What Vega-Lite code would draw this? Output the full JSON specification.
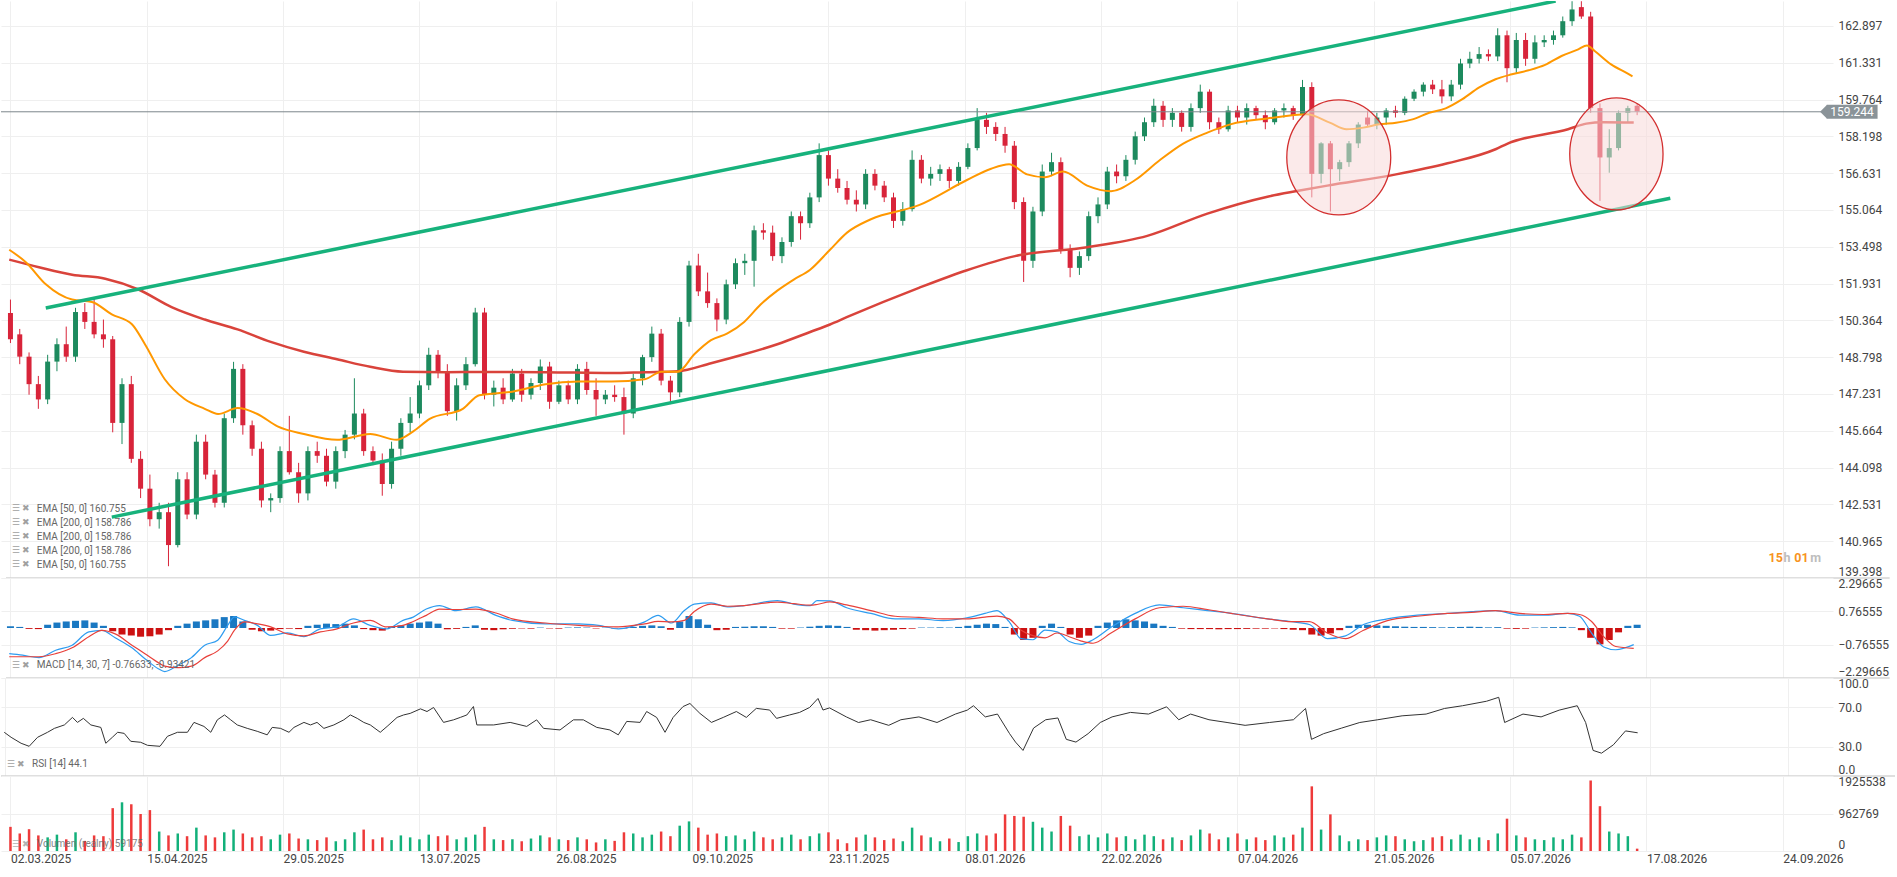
{
"$schema":"https://vega.github.io/schema/vega-lite/v6.json",
"padding":0,
"background":"#ffffff",
"spacing":0,
"bounds":"flush",
"config":{"view":{"stroke":null},"axis":{"domain":false,"ticks":false,"tickSize":0,"title":null,"grid":true,"gridColor":"#efefef","gridWidth":1,"labelFont":"Roboto","labelFontSize":12,"labelColor":"#444444"},"text":{"font":"Roboto"}},
"datasets":{
"one":[{}],
"k":[
{"t":0,"o":150.68,"h":151.25,"l":149.4,"c":149.56,"v":620,"g":0.08},
{"t":3,"o":149.77,"h":150.0,"l":148.5,"c":148.82,"v":450,"g":0.05},
{"t":6,"o":148.82,"h":149.0,"l":147.2,"c":147.65,"v":560,"g":-0.04},
{"t":9,"o":147.65,"h":148.0,"l":146.6,"c":147.0,"v":400,"g":-0.05},
{"t":12,"o":147.0,"h":148.9,"l":146.8,"c":148.61,"v":350,"g":0.15},
{"t":15,"o":148.61,"h":149.6,"l":148.2,"c":149.35,"v":420,"g":0.25},
{"t":18,"o":149.35,"h":150.1,"l":148.6,"c":148.82,"v":300,"g":0.3},
{"t":21,"o":148.82,"h":150.9,"l":148.6,"c":150.72,"v":480,"g":0.33},
{"t":24,"o":150.72,"h":151.1,"l":150.0,"c":150.3,"v":260,"g":0.35},
{"t":27,"o":150.3,"h":151.3,"l":149.6,"c":149.77,"v":400,"g":0.25},
{"t":30,"o":149.77,"h":150.4,"l":149.2,"c":149.56,"v":380,"g":0.1},
{"t":33,"o":149.56,"h":149.7,"l":145.6,"c":146.0,"v":1100,"g":-0.15},
{"t":36,"o":146.0,"h":147.9,"l":145.1,"c":147.65,"v":1250,"g":-0.3},
{"t":39,"o":147.65,"h":148.0,"l":144.3,"c":144.47,"v":1200,"g":-0.35},
{"t":42,"o":144.47,"h":144.8,"l":142.8,"c":143.2,"v":950,"g":-0.4},
{"t":45,"o":143.2,"h":143.8,"l":141.6,"c":141.9,"v":1050,"g":-0.38},
{"t":48,"o":141.9,"h":142.6,"l":141.5,"c":142.2,"v":500,"g":-0.3},
{"t":51,"o":142.2,"h":142.6,"l":139.9,"c":140.8,"v":400,"g":-0.1},
{"t":54,"o":140.8,"h":143.9,"l":140.7,"c":143.6,"v":450,"g":0.1},
{"t":57,"o":143.6,"h":143.9,"l":141.9,"c":142.1,"v":380,"g":0.2},
{"t":60,"o":142.1,"h":145.5,"l":141.9,"c":145.2,"v":600,"g":0.3},
{"t":63,"o":145.2,"h":145.5,"l":143.6,"c":143.8,"v":400,"g":0.35},
{"t":66,"o":143.8,"h":144.0,"l":142.4,"c":142.6,"v":350,"g":0.4},
{"t":69,"o":142.6,"h":146.4,"l":142.4,"c":146.2,"v":480,"g":0.5},
{"t":72,"o":146.2,"h":148.6,"l":146.0,"c":148.3,"v":550,"g":0.55},
{"t":75,"o":148.3,"h":148.5,"l":145.5,"c":145.9,"v":450,"g":0.3},
{"t":78,"o":145.9,"h":146.1,"l":144.6,"c":144.9,"v":350,"g":-0.08},
{"t":81,"o":144.9,"h":145.2,"l":142.4,"c":142.7,"v":380,"g":-0.15},
{"t":84,"o":142.7,"h":143.0,"l":142.2,"c":142.8,"v":300,"g":-0.12},
{"t":87,"o":142.8,"h":145.0,"l":142.6,"c":144.8,"v":420,"g":-0.05},
{"t":90,"o":144.8,"h":146.3,"l":143.8,"c":143.9,"v":450,"g":-0.03},
{"t":93,"o":143.9,"h":144.3,"l":142.6,"c":143.0,"v":320,"g":-0.05},
{"t":96,"o":143.0,"h":145.0,"l":142.7,"c":144.8,"v":300,"g":0.1},
{"t":99,"o":144.8,"h":145.2,"l":144.3,"c":144.6,"v":280,"g":0.15},
{"t":102,"o":144.6,"h":144.9,"l":143.3,"c":143.5,"v":350,"g":0.2},
{"t":105,"o":143.5,"h":145.0,"l":143.2,"c":144.8,"v":250,"g":0.18},
{"t":108,"o":144.8,"h":145.7,"l":144.5,"c":145.5,"v":300,"g":0.2},
{"t":111,"o":145.5,"h":147.9,"l":145.3,"c":146.4,"v":480,"g":0.12},
{"t":114,"o":146.4,"h":146.6,"l":144.6,"c":144.8,"v":550,"g":-0.05},
{"t":117,"o":144.8,"h":145.0,"l":144.2,"c":144.4,"v":300,"g":-0.1},
{"t":120,"o":144.4,"h":144.7,"l":142.9,"c":143.4,"v":350,"g":-0.12},
{"t":123,"o":143.4,"h":145.2,"l":143.2,"c":144.9,"v":280,"g":0.05},
{"t":126,"o":144.9,"h":146.2,"l":144.6,"c":146.0,"v":400,"g":0.12},
{"t":129,"o":146.0,"h":147.1,"l":145.6,"c":146.4,"v":350,"g":0.2},
{"t":132,"o":146.4,"h":147.8,"l":146.2,"c":147.6,"v":300,"g":0.25},
{"t":135,"o":147.6,"h":149.2,"l":147.4,"c":148.9,"v":420,"g":0.3},
{"t":138,"o":148.9,"h":149.1,"l":147.9,"c":148.2,"v":380,"g":0.2},
{"t":141,"o":148.2,"h":148.5,"l":146.3,"c":146.5,"v":400,"g":-0.06},
{"t":144,"o":146.5,"h":147.9,"l":146.1,"c":147.6,"v":300,"g":-0.04},
{"t":147,"o":147.6,"h":148.8,"l":147.4,"c":148.5,"v":350,"g":0.05},
{"t":150,"o":148.5,"h":150.9,"l":148.4,"c":150.7,"v":420,"g":0.12},
{"t":153,"o":150.7,"h":150.9,"l":147.0,"c":147.2,"v":620,"g":-0.08},
{"t":156,"o":147.2,"h":147.8,"l":146.7,"c":147.5,"v":300,"g":-0.1},
{"t":159,"o":147.5,"h":147.9,"l":146.8,"c":147.0,"v":280,"g":-0.06},
{"t":162,"o":147.0,"h":148.3,"l":146.9,"c":148.1,"v":300,"g":-0.03},
{"t":165,"o":148.1,"h":148.3,"l":146.9,"c":147.2,"v":250,"g":-0.02},
{"t":168,"o":147.2,"h":147.9,"l":147.0,"c":147.7,"v":320,"g":-0.03},
{"t":171,"o":147.7,"h":148.7,"l":147.4,"c":148.4,"v":400,"g":0.02},
{"t":174,"o":148.4,"h":148.6,"l":146.6,"c":146.9,"v":350,"g":-0.02},
{"t":177,"o":146.9,"h":147.8,"l":146.8,"c":147.6,"v":300,"g":-0.03},
{"t":180,"o":147.6,"h":147.8,"l":146.8,"c":147.0,"v":280,"g":0.02},
{"t":183,"o":147.0,"h":148.5,"l":146.8,"c":148.3,"v":350,"g":0.03},
{"t":186,"o":148.3,"h":148.6,"l":147.2,"c":147.4,"v":300,"g":0.02},
{"t":189,"o":147.4,"h":147.9,"l":146.3,"c":147.0,"v":220,"g":-0.02},
{"t":192,"o":147.0,"h":147.4,"l":146.8,"c":147.2,"v":300,"g":0.02},
{"t":195,"o":147.2,"h":147.6,"l":146.9,"c":147.1,"v":260,"g":-0.02},
{"t":198,"o":147.1,"h":147.5,"l":145.5,"c":146.4,"v":480,"g":-0.02},
{"t":201,"o":146.4,"h":148.1,"l":146.2,"c":147.9,"v":450,"g":0.05},
{"t":204,"o":147.9,"h":148.9,"l":147.6,"c":148.8,"v":350,"g":0.1},
{"t":207,"o":148.8,"h":150.1,"l":148.6,"c":149.8,"v":420,"g":0.12},
{"t":210,"o":149.8,"h":150.0,"l":147.6,"c":147.8,"v":500,"g":0.08},
{"t":213,"o":147.8,"h":148.0,"l":146.8,"c":147.3,"v":380,"g":-0.08},
{"t":216,"o":147.3,"h":150.5,"l":147.1,"c":150.3,"v":650,"g":0.3},
{"t":219,"o":150.3,"h":152.9,"l":150.1,"c":152.7,"v":760,"g":0.55},
{"t":222,"o":152.7,"h":153.2,"l":151.4,"c":151.6,"v":600,"g":0.4},
{"t":225,"o":151.6,"h":152.4,"l":150.9,"c":151.1,"v":420,"g":0.15},
{"t":228,"o":151.1,"h":151.3,"l":149.9,"c":150.4,"v":450,"g":-0.1},
{"t":231,"o":150.4,"h":152.1,"l":150.2,"c":151.9,"v":380,"g":-0.08},
{"t":234,"o":151.9,"h":153.0,"l":151.7,"c":152.8,"v":400,"g":0.05},
{"t":237,"o":152.8,"h":153.2,"l":152.3,"c":152.9,"v":300,"g":0.06},
{"t":240,"o":152.9,"h":154.4,"l":151.8,"c":154.2,"v":500,"g":0.08},
{"t":243,"o":154.2,"h":154.5,"l":153.8,"c":154.1,"v":350,"g":0.08},
{"t":246,"o":154.1,"h":154.4,"l":152.9,"c":153.1,"v":300,"g":0.05},
{"t":249,"o":153.1,"h":153.9,"l":152.8,"c":153.7,"v":350,"g":-0.03},
{"t":252,"o":153.7,"h":155.0,"l":153.5,"c":154.8,"v":420,"g":-0.03},
{"t":255,"o":154.8,"h":155.0,"l":153.8,"c":154.5,"v":300,"g":0.02},
{"t":258,"o":154.5,"h":155.8,"l":154.3,"c":155.6,"v":380,"g":0.06},
{"t":261,"o":155.6,"h":157.9,"l":155.4,"c":157.4,"v":450,"g":0.1},
{"t":264,"o":157.4,"h":157.6,"l":156.1,"c":156.4,"v":480,"g":0.12},
{"t":267,"o":156.4,"h":156.8,"l":155.8,"c":156.0,"v":300,"g":0.1},
{"t":270,"o":156.0,"h":156.3,"l":155.3,"c":155.5,"v":200,"g":0.05},
{"t":273,"o":155.5,"h":155.9,"l":155.0,"c":155.3,"v":350,"g":-0.08},
{"t":276,"o":155.3,"h":156.8,"l":155.1,"c":156.6,"v":420,"g":-0.1},
{"t":279,"o":156.6,"h":156.8,"l":155.9,"c":156.1,"v":350,"g":-0.12},
{"t":282,"o":156.1,"h":156.3,"l":155.4,"c":155.6,"v":280,"g":-0.1},
{"t":285,"o":155.6,"h":155.8,"l":154.3,"c":154.6,"v":320,"g":-0.08},
{"t":288,"o":154.6,"h":155.4,"l":154.4,"c":155.1,"v":250,"g":-0.05},
{"t":291,"o":155.1,"h":157.6,"l":155.0,"c":157.2,"v":600,"g":-0.03},
{"t":294,"o":157.2,"h":157.4,"l":156.2,"c":156.4,"v":400,"g":0.02},
{"t":297,"o":156.4,"h":156.9,"l":156.1,"c":156.6,"v":350,"g":0.02},
{"t":300,"o":156.6,"h":157.0,"l":156.3,"c":156.8,"v":250,"g":0.03},
{"t":303,"o":156.8,"h":156.9,"l":156.0,"c":156.3,"v":320,"g":0.02},
{"t":306,"o":156.3,"h":157.1,"l":156.1,"c":156.9,"v":230,"g":0.05},
{"t":309,"o":156.9,"h":157.9,"l":156.8,"c":157.7,"v":380,"g":0.1},
{"t":312,"o":157.7,"h":159.4,"l":157.6,"c":158.9,"v":450,"g":0.15},
{"t":315,"o":158.9,"h":159.2,"l":158.3,"c":158.6,"v":400,"g":0.2},
{"t":318,"o":158.6,"h":158.8,"l":158.0,"c":158.3,"v":450,"g":0.18},
{"t":321,"o":158.3,"h":158.6,"l":157.5,"c":157.8,"v":940,"g":0.05},
{"t":324,"o":157.8,"h":158.0,"l":155.1,"c":155.4,"v":900,"g":-0.3},
{"t":327,"o":155.4,"h":155.6,"l":152.0,"c":152.9,"v":880,"g":-0.55},
{"t":330,"o":152.9,"h":155.2,"l":152.6,"c":155.0,"v":750,"g":-0.45},
{"t":333,"o":155.0,"h":157.0,"l":154.8,"c":156.7,"v":600,"g":0.1},
{"t":336,"o":156.7,"h":157.5,"l":156.5,"c":157.1,"v":500,"g":0.2},
{"t":339,"o":157.1,"h":157.3,"l":153.2,"c":153.4,"v":900,"g":0.05},
{"t":342,"o":153.4,"h":153.6,"l":152.2,"c":152.6,"v":650,"g":-0.3},
{"t":345,"o":152.6,"h":153.3,"l":152.3,"c":153.1,"v":380,"g":-0.45},
{"t":348,"o":153.1,"h":155.0,"l":152.9,"c":154.8,"v":420,"g":-0.35},
{"t":351,"o":154.8,"h":155.6,"l":154.5,"c":155.3,"v":350,"g":0.1},
{"t":354,"o":155.3,"h":156.9,"l":155.1,"c":156.7,"v":450,"g":0.25},
{"t":357,"o":156.7,"h":157.0,"l":156.2,"c":156.5,"v":350,"g":0.35},
{"t":360,"o":156.5,"h":157.4,"l":156.3,"c":157.2,"v":380,"g":0.4},
{"t":363,"o":157.2,"h":158.4,"l":157.0,"c":158.2,"v":300,"g":0.35},
{"t":366,"o":158.2,"h":159.0,"l":158.0,"c":158.8,"v":420,"g":0.3},
{"t":369,"o":158.8,"h":159.8,"l":158.6,"c":159.5,"v":380,"g":0.2},
{"t":372,"o":159.5,"h":159.7,"l":158.6,"c":158.9,"v":300,"g":0.1},
{"t":375,"o":158.9,"h":159.4,"l":158.6,"c":159.2,"v":350,"g":0.05},
{"t":378,"o":159.2,"h":159.3,"l":158.4,"c":158.6,"v":280,"g":-0.03},
{"t":381,"o":158.6,"h":159.6,"l":158.4,"c":159.4,"v":400,"g":-0.05},
{"t":384,"o":159.4,"h":160.4,"l":159.2,"c":160.1,"v":550,"g":-0.05},
{"t":387,"o":160.1,"h":160.2,"l":158.5,"c":158.8,"v":450,"g":-0.05},
{"t":390,"o":158.8,"h":159.0,"l":158.3,"c":158.5,"v":300,"g":-0.06},
{"t":393,"o":158.5,"h":159.5,"l":158.4,"c":159.3,"v":350,"g":-0.05},
{"t":396,"o":159.3,"h":159.5,"l":158.8,"c":159.0,"v":450,"g":-0.05},
{"t":399,"o":159.0,"h":159.6,"l":158.7,"c":159.4,"v":300,"g":-0.04},
{"t":402,"o":159.4,"h":159.5,"l":158.9,"c":159.1,"v":350,"g":-0.03},
{"t":405,"o":159.1,"h":159.3,"l":158.5,"c":158.8,"v":280,"g":-0.03},
{"t":408,"o":158.8,"h":159.4,"l":158.7,"c":159.3,"v":400,"g":-0.02},
{"t":411,"o":159.3,"h":159.6,"l":159.0,"c":159.4,"v":350,"g":-0.05},
{"t":414,"o":159.4,"h":159.5,"l":158.9,"c":159.1,"v":420,"g":-0.08},
{"t":417,"o":159.1,"h":160.6,"l":159.0,"c":160.3,"v":600,"g":-0.1},
{"t":420,"o":160.3,"h":160.5,"l":155.6,"c":156.6,"v":1660,"g":-0.3},
{"t":423,"o":156.6,"h":157.95,"l":156.2,"c":157.9,"v":550,"g":-0.35},
{"t":426,"o":157.9,"h":158.0,"l":155.0,"c":156.8,"v":940,"g":-0.25},
{"t":429,"o":156.8,"h":157.2,"l":156.3,"c":157.1,"v":400,"g":-0.1},
{"t":432,"o":157.1,"h":158.0,"l":156.9,"c":157.9,"v":250,"g":0.1},
{"t":435,"o":157.9,"h":158.8,"l":157.7,"c":158.7,"v":300,"g":0.15},
{"t":438,"o":159.0,"h":159.3,"l":158.6,"c":158.7,"v":280,"g":0.15},
{"t":441,"o":158.7,"h":159.2,"l":158.5,"c":159.0,"v":350,"g":0.12},
{"t":444,"o":159.0,"h":159.4,"l":158.7,"c":159.3,"v":400,"g":0.1},
{"t":447,"o":159.3,"h":159.5,"l":159.0,"c":159.2,"v":380,"g":0.08},
{"t":450,"o":159.2,"h":159.9,"l":159.1,"c":159.8,"v":300,"g":0.06},
{"t":453,"o":159.8,"h":160.2,"l":159.7,"c":160.1,"v":250,"g":0.05},
{"t":456,"o":160.1,"h":160.5,"l":159.9,"c":160.4,"v":280,"g":0.05},
{"t":459,"o":160.4,"h":160.6,"l":160.0,"c":160.2,"v":350,"g":0.04},
{"t":462,"o":160.2,"h":160.6,"l":159.6,"c":159.9,"v":380,"g":0.03},
{"t":465,"o":159.9,"h":160.6,"l":159.7,"c":160.4,"v":300,"g":0.04},
{"t":468,"o":160.4,"h":161.5,"l":160.2,"c":161.3,"v":420,"g":0.05},
{"t":471,"o":161.3,"h":161.8,"l":161.1,"c":161.5,"v":300,"g":0.06},
{"t":474,"o":161.5,"h":162.0,"l":161.3,"c":161.7,"v":350,"g":0.05},
{"t":477,"o":161.7,"h":161.9,"l":161.4,"c":161.6,"v":280,"g":0.03},
{"t":480,"o":161.6,"h":162.8,"l":161.4,"c":162.5,"v":450,"g":0.04},
{"t":483,"o":162.5,"h":162.7,"l":160.5,"c":161.1,"v":830,"g":-0.03},
{"t":486,"o":161.1,"h":162.6,"l":160.9,"c":162.3,"v":400,"g":-0.04},
{"t":489,"o":162.3,"h":162.6,"l":161.2,"c":161.5,"v":350,"g":-0.03},
{"t":492,"o":161.5,"h":162.5,"l":161.3,"c":162.2,"v":300,"g":0.02},
{"t":495,"o":162.2,"h":162.5,"l":162.0,"c":162.3,"v":280,"g":0.03},
{"t":498,"o":162.3,"h":162.7,"l":162.1,"c":162.5,"v":350,"g":0.04},
{"t":501,"o":162.5,"h":163.3,"l":162.4,"c":163.1,"v":300,"g":0.05},
{"t":504,"o":163.1,"h":163.95,"l":162.9,"c":163.6,"v":420,"g":0.03},
{"t":507,"o":163.7,"h":163.95,"l":163.2,"c":163.3,"v":350,"g":-0.1},
{"t":510,"o":163.3,"h":163.5,"l":159.2,"c":159.4,"v":1810,"g":-0.45},
{"t":513,"o":159.4,"h":159.6,"l":155.45,"c":157.3,"v":1150,"g":-0.75},
{"t":516,"o":157.3,"h":158.5,"l":156.65,"c":157.7,"v":500,"g":-0.55},
{"t":519,"o":157.7,"h":159.3,"l":157.6,"c":159.2,"v":450,"g":-0.2},
{"t":522,"o":159.2,"h":159.5,"l":158.8,"c":159.4,"v":380,"g":0.1},
{"t":525,"o":159.5,"h":159.6,"l":159.1,"c":159.244,"v":60,"g":0.15}
],
"e200":[
{"t":-0.4,"p":152.95},{"t":9.2,"p":152.63},{"t":19.9,"p":152.31},{"t":30.6,"p":152.14},{"t":41.3,"p":151.68},{"t":52,"p":150.93},{"t":62.7,"p":150.4},{"t":73.3,"p":149.98},{"t":84,"p":149.45},{"t":94.7,"p":149.03},{"t":105.4,"p":148.71},{"t":116.1,"p":148.39},{"t":126.7,"p":148.18},{"t":140.6,"p":148.16},{"t":151.3,"p":148.17},{"t":172.7,"p":148.16},{"t":194,"p":148.12},{"t":204.7,"p":148.16},{"t":215.4,"p":148.2},{"t":226.1,"p":148.54},{"t":236.8,"p":148.92},{"t":247.5,"p":149.35},{"t":258.1,"p":149.87},{"t":264.5,"p":150.19},{"t":269.9,"p":150.5},{"t":293.2,"p":151.75},{"t":308.7,"p":152.5},{"t":324.2,"p":153.1},{"t":347.5,"p":153.48},{"t":366.9,"p":153.96},{"t":386.3,"p":154.91},{"t":405.7,"p":155.63},{"t":415.2,"p":155.87},{"t":425,"p":156.1},{"t":447.2,"p":156.58},{"t":463.8,"p":157.05},{"t":479.3,"p":157.65},{"t":483.2,"p":157.89},{"t":502.7,"p":158.5},{"t":508.6,"p":158.74},{"t":514.2,"p":158.8},{"t":523.9,"p":158.786}
],
"e50":[
{"t":-0.4,"p":153.37},{"t":4.97,"p":152.84},{"t":11.4,"p":151.9},{"t":19.9,"p":151.25},{"t":26.3,"p":151.15},{"t":32.7,"p":150.62},{"t":39.2,"p":150.2},{"t":43.4,"p":149.35},{"t":49.8,"p":147.86},{"t":56.2,"p":147.02},{"t":62.7,"p":146.6},{"t":67,"p":146.38},{"t":73.3,"p":146.63},{"t":79.7,"p":146.38},{"t":86.2,"p":145.85},{"t":94.7,"p":145.53},{"t":105.4,"p":145.28},{"t":111.8,"p":145.43},{"t":116.1,"p":145.53},{"t":124.6,"p":145.28},{"t":130,"p":145.64},{"t":135.3,"p":146.17},{"t":146,"p":146.6},{"t":151.3,"p":147.18},{"t":162,"p":147.33},{"t":172.7,"p":147.65},{"t":183.4,"p":147.76},{"t":194,"p":147.76},{"t":204.7,"p":147.86},{"t":210.1,"p":148.18},{"t":215.4,"p":148.18},{"t":220.7,"p":148.92},{"t":226.1,"p":149.52},{"t":231.4,"p":149.81},{"t":236.8,"p":150.3},{"t":242.1,"p":151.04},{"t":247.5,"p":151.63},{"t":252.8,"p":152.1},{"t":258.1,"p":152.52},{"t":264.5,"p":153.37},{"t":270,"p":154.1},{"t":277.7,"p":154.67},{"t":293.2,"p":155.27},{"t":308.7,"p":156.34},{"t":316.5,"p":156.82},{"t":322.3,"p":157.01},{"t":328.1,"p":156.58},{"t":333.9,"p":156.46},{"t":339.7,"p":156.7},{"t":347.5,"p":156.1},{"t":355.2,"p":155.86},{"t":363,"p":156.34},{"t":370.8,"p":157.17},{"t":378.5,"p":157.89},{"t":386.3,"p":158.36},{"t":394,"p":158.72},{"t":405.7,"p":158.96},{"t":418.4,"p":159.14},{"t":425.8,"p":158.78},{"t":431.2,"p":158.5},{"t":436.6,"p":158.57},{"t":441.8,"p":158.71},{"t":447.2,"p":158.78},{"t":452.5,"p":158.92},{"t":457.9,"p":159.2},{"t":463.2,"p":159.39},{"t":468.6,"p":159.78},{"t":473.9,"p":160.27},{"t":479.3,"p":160.63},{"t":484.6,"p":160.84},{"t":490,"p":161.01},{"t":495.3,"p":161.24},{"t":500.6,"p":161.62},{"t":506,"p":161.9},{"t":508.8,"p":162.07},{"t":511.3,"p":161.83},{"t":516.6,"p":161.26},{"t":522,"p":160.87},{"t":523.5,"p":160.755}
],
"ch":[{"g":"u","t":11.4,"p":150.89},{"g":"u","t":498.7,"p":163.96},{"g":"l","t":32.7,"p":141.99},{"g":"l","t":535.7,"p":155.56}],
"md":[
{"t":-0.4,"m":-1.18,"s":-1.32},{"t":3.9,"m":-1.25,"s":-1.32},{"t":9.2,"m":-1.36,"s":-1.32},{"t":14.6,"m":-1.02,"s":-1.18},{"t":19.9,"m":-0.79,"s":-0.91},{"t":25.3,"m":-0.18,"s":-0.4},{"t":29.5,"m":-0.11,"s":-0.11},{"t":33.8,"m":-0.45,"s":-0.27},{"t":39.2,"m":-0.91,"s":-0.79},{"t":43.4,"m":-1.41,"s":-1.18},{"t":47.7,"m":-1.87,"s":-1.59},{"t":49.8,"m":-2.0,"s":-1.75},{"t":54.1,"m":-1.71,"s":-1.82},{"t":58.4,"m":-1.36,"s":-1.75},{"t":62.7,"m":-0.79,"s":-1.36},{"t":66.9,"m":-0.56,"s":-1.05},{"t":70.1,"m":0.12,"s":-0.6},{"t":72.3,"m":0.51,"s":-0.1},{"t":75.5,"m":0.35,"s":0.28},{"t":79.7,"m":0.12,"s":0.19},{"t":84,"m":-0.34,"s":0.05},{"t":89.4,"m":-0.22,"s":-0.27},{"t":94.7,"m":-0.4,"s":-0.36},{"t":100,"m":-0.04,"s":-0.18},{"t":105.4,"m":0.05,"s":-0.04},{"t":110.7,"m":0.42,"s":0.23},{"t":116.1,"m":0.12,"s":0.35},{"t":121.4,"m":-0.04,"s":0.05},{"t":126.7,"m":0.35,"s":0.12},{"t":130,"m":0.5,"s":0.3},{"t":134.2,"m":0.87,"s":0.58},{"t":138.5,"m":1.03,"s":0.87},{"t":143.8,"m":0.8,"s":0.85},{"t":150.2,"m":0.97,"s":0.87},{"t":156.7,"m":0.58,"s":0.69},{"t":162,"m":0.35,"s":0.42},{"t":172.7,"m":0.19,"s":0.23},{"t":183.4,"m":0.19,"s":0.12},{"t":189.8,"m":0.12,"s":0.08},{"t":196.2,"m":-0.04,"s":0.05},{"t":204.7,"m":0.28,"s":0.19},{"t":209,"m":0.58,"s":0.3},{"t":213.3,"m":0.23,"s":0.28},{"t":217.5,"m":0.8,"s":0.35},{"t":220.7,"m":1.1,"s":0.76},{"t":226.1,"m":1.15,"s":1.1},{"t":231.4,"m":0.97,"s":1.0},{"t":236.8,"m":1.03,"s":1.03},{"t":247.5,"m":1.26,"s":1.19},{"t":252.8,"m":1.1,"s":1.12},{"t":258.1,"m":1.03,"s":1.05},{"t":260.3,"m":1.26,"s":1.08},{"t":264.5,"m":1.25,"s":1.2},{"t":269.9,"m":0.93,"s":1.06},{"t":277.7,"m":0.67,"s":0.8},{"t":285.5,"m":0.42,"s":0.54},{"t":293.2,"m":0.42,"s":0.49},{"t":301,"m":0.34,"s":0.42},{"t":308.7,"m":0.47,"s":0.42},{"t":314.5,"m":0.67,"s":0.5},{"t":318.4,"m":0.8,"s":0.55},{"t":322.3,"m":0.29,"s":0.42},{"t":326.2,"m":-0.49,"s":-0.1},{"t":330,"m":-0.54,"s":-0.35},{"t":333.9,"m":-0.1,"s":-0.45},{"t":337.8,"m":-0.18,"s":-0.23},{"t":341.7,"m":-0.62,"s":-0.4},{"t":345.6,"m":-0.75,"s":-0.6},{"t":349.4,"m":-0.54,"s":-0.7},{"t":355.2,"m":0.03,"s":-0.23},{"t":363,"m":0.67,"s":0.42},{"t":370.8,"m":1.06,"s":0.93},{"t":378.5,"m":0.93,"s":1.0},{"t":386.3,"m":0.8,"s":0.85},{"t":394,"m":0.67,"s":0.67},{"t":405.7,"m":0.42,"s":0.42},{"t":413.4,"m":0.29,"s":0.29},{"t":419.2,"m":0.16,"s":0.29},{"t":425,"m":-0.49,"s":-0.23},{"t":430.9,"m":-0.36,"s":-0.49},{"t":436.7,"m":0.16,"s":-0.1},{"t":444.4,"m":0.42,"s":0.34},{"t":454.1,"m":0.59,"s":0.54},{"t":463.8,"m":0.67,"s":0.67},{"t":471.5,"m":0.75,"s":0.72},{"t":479.3,"m":0.8,"s":0.8},{"t":487.1,"m":0.59,"s":0.67},{"t":494.8,"m":0.59,"s":0.62},{"t":502.6,"m":0.67,"s":0.67},{"t":506.4,"m":0.54,"s":0.62},{"t":510.3,"m":-0.23,"s":0.3},{"t":514.2,"m":-0.87,"s":-0.4},{"t":518.1,"m":-1.0,"s":-0.85},{"t":523.9,"m":-0.766,"s":-0.934}
],
"rs":[
{"t":-0.4,"r":44.6},{"t":1.8,"r":39.5},{"t":5,"r":33.4},{"t":7.6,"r":30.3},{"t":10.3,"r":39.5},{"t":13.5,"r":44.6},{"t":15.7,"r":48.6},{"t":18.9,"r":52.1},{"t":21.5,"r":59.8},{"t":23.1,"r":54.7},{"t":25,"r":58.8},{"t":27.4,"r":52.1},{"t":30.6,"r":49.6},{"t":32.2,"r":33.4},{"t":34.3,"r":39.5},{"t":36,"r":44.6},{"t":38.1,"r":43.5},{"t":40.2,"r":35.4},{"t":43.4,"r":34.4},{"t":45.6,"r":31.3},{"t":49.6,"r":30.3},{"t":52,"r":40.5},{"t":55.2,"r":44.6},{"t":58.4,"r":44.6},{"t":60.5,"r":54.7},{"t":63.7,"r":50.6},{"t":65.9,"r":44.6},{"t":68,"r":57.3},{"t":70.3,"r":62.3},{"t":72.3,"r":57.3},{"t":74.4,"r":52.1},{"t":77.6,"r":48.6},{"t":80.8,"r":45.6},{"t":84,"r":42.0},{"t":85.6,"r":49.6},{"t":88.3,"r":48.6},{"t":91,"r":44.6},{"t":92.6,"r":49.6},{"t":95.8,"r":54.7},{"t":97.9,"r":52.1},{"t":100,"r":54.7},{"t":102.2,"r":48.6},{"t":105.4,"r":52.1},{"t":108.6,"r":57.3},{"t":110.7,"r":62.3},{"t":112.9,"r":58.8},{"t":115,"r":54.7},{"t":117.1,"r":52.1},{"t":120.3,"r":44.6},{"t":122.5,"r":50.6},{"t":125.7,"r":59.8},{"t":127.8,"r":62.3},{"t":129.9,"r":63.9},{"t":133.2,"r":68.5},{"t":135.3,"r":65.8},{"t":137.4,"r":69.9},{"t":140.6,"r":54.7},{"t":143.8,"r":57.3},{"t":146,"r":59.8},{"t":148.1,"r":62.3},{"t":150.2,"r":70.9},{"t":151.3,"r":52.1},{"t":156.7,"r":52.1},{"t":162,"r":54.7},{"t":167.3,"r":50.6},{"t":170.5,"r":57.3},{"t":172.7,"r":48.6},{"t":178,"r":47.0},{"t":182.3,"r":57.3},{"t":185.5,"r":57.3},{"t":189.8,"r":49.6},{"t":194,"r":47.0},{"t":196.7,"r":42.0},{"t":199.4,"r":55.7},{"t":203.7,"r":54.7},{"t":205.8,"r":65.8},{"t":209,"r":59.8},{"t":211.7,"r":44.6},{"t":214.3,"r":59.8},{"t":217.5,"r":70.9},{"t":219.7,"r":74.0},{"t":222.9,"r":63.9},{"t":226.6,"r":54.7},{"t":230.4,"r":59.8},{"t":234.6,"r":65.8},{"t":237.8,"r":59.8},{"t":241,"r":69.0},{"t":245.3,"r":67.3},{"t":247.5,"r":58.8},{"t":251.7,"r":62.3},{"t":254.9,"r":64.9},{"t":258.1,"r":69.9},{"t":260.8,"r":79.1},{"t":262.4,"r":67.3},{"t":264.5,"r":69.5},{"t":269.9,"r":60.3},{"t":273.8,"r":54.6},{"t":277.7,"r":57.4},{"t":283.5,"r":51.7},{"t":287.4,"r":57.4},{"t":293.2,"r":60.3},{"t":299,"r":54.6},{"t":304.9,"r":63.2},{"t":308.7,"r":67.2},{"t":310.7,"r":71.7},{"t":314.5,"r":60.3},{"t":318.4,"r":63.2},{"t":322.3,"r":43.2},{"t":324.2,"r":34.6},{"t":326.6,"r":26.1},{"t":330,"r":48.9},{"t":333.9,"r":57.4},{"t":337.8,"r":59.2},{"t":340.5,"r":37.4},{"t":343.6,"r":34.6},{"t":347.5,"r":43.2},{"t":351.4,"r":54.6},{"t":355.2,"r":60.3},{"t":361.1,"r":64.9},{"t":366.9,"r":63.2},{"t":372.7,"r":70.6},{"t":376.6,"r":57.4},{"t":380.4,"r":63.2},{"t":386.3,"r":57.4},{"t":392.1,"r":54.6},{"t":397.9,"r":51.7},{"t":405.7,"r":54.6},{"t":413.4,"r":57.4},{"t":417.3,"r":68.9},{"t":419.2,"r":37.4},{"t":423.1,"r":43.2},{"t":428.9,"r":48.9},{"t":434.7,"r":54.6},{"t":440.5,"r":57.4},{"t":448.3,"r":61.4},{"t":456,"r":63.2},{"t":461.9,"r":68.9},{"t":467.7,"r":71.7},{"t":475.4,"r":76.3},{"t":479.3,"r":80.3},{"t":481.2,"r":54.6},{"t":487.1,"r":63.2},{"t":492.9,"r":60.3},{"t":498.7,"r":67.2},{"t":504.5,"r":71.7},{"t":507.2,"r":54.6},{"t":509.6,"r":26.1},{"t":512.3,"r":23.3},{"t":516.1,"r":31.8},{"t":520,"r":46.0},{"t":523.9,"r":44.1}
]
},
"vconcat":[
{"width":1832,"height":577,
"layer":[
{"data":{"name":"k"},"mark":{"type":"rule","strokeWidth":1},
 "encoding":{"x":{"field":"t","type":"quantitative","scale":{"domain":[-1.44,586.6],"nice":false,"zero":false},"axis":{"values":[0,44,88,132,176,220,264,308,352,396,440,484,528,572],"tickCount":100,"labels":false}},
 "y":{"field":"l","type":"quantitative","scale":{"domain":[139.398,163.96],"nice":false,"zero":false},"axis":{"orient":"right","values":[139.398,140.965,142.531,144.098,145.664,147.231,148.798,150.364,151.931,153.498,155.064,156.631,158.198,159.764,161.331,162.897],"tickCount":100,"labelExpr":"format(datum.value,'.3f')","labelPadding":5,"labelFlush":true,"labelOverlap":false}},
 "y2":{"field":"h"},
 "color":{"condition":{"test":"datum.c >= datum.o","value":"#1d8a5e"},"value":"#d8243a"}}},
{"data":{"name":"k"},"mark":{"type":"bar","size":5},
 "encoding":{"x":{"field":"t","type":"quantitative"},"y":{"field":"o","type":"quantitative"},"y2":{"field":"c"},
 "color":{"condition":{"test":"datum.c >= datum.o","value":"#1d8a5e"},"value":"#d8243a"}}},
{"data":{"name":"one"},"mark":{"type":"rule","color":"#7d868c","strokeWidth":1},"encoding":{"y":{"datum":159.244,"type":"quantitative"}}},
{"data":{"name":"e200"},"mark":{"type":"line","color":"#d9433b","strokeWidth":2.5,"interpolate":"monotone"},"encoding":{"x":{"field":"t","type":"quantitative"},"y":{"field":"p","type":"quantitative"}}},
{"data":{"name":"e50"},"mark":{"type":"line","color":"#ff9800","strokeWidth":2,"interpolate":"monotone"},"encoding":{"x":{"field":"t","type":"quantitative"},"y":{"field":"p","type":"quantitative"}}},
{"data":{"name":"ch"},"mark":{"type":"line","color":"#17b27c","strokeWidth":3.5,"clip":true},"encoding":{"x":{"field":"t","type":"quantitative"},"y":{"field":"p","type":"quantitative"},"detail":{"field":"g"}}},
{"data":{"name":"one"},"mark":{"type":"point","shape":"M -0.904 0 A 0.904 1 0 1 0 0.904 0 A 0.904 1 0 1 0 -0.904 0 Z","size":13225,"filled":true,"fill":"#f8d9d9","fillOpacity":0.55,"stroke":"#d32f2f","strokeWidth":1.3,"opacity":1},"encoding":{"x":{"datum":428.7,"type":"quantitative"},"y":{"datum":157.3,"type":"quantitative"}}},
{"data":{"name":"one"},"mark":{"type":"point","shape":"M -0.833 0 A 0.833 1 0 1 0 0.833 0 A 0.833 1 0 1 0 -0.833 0 Z","size":12544,"filled":true,"fill":"#f8d9d9","fillOpacity":0.55,"stroke":"#d32f2f","strokeWidth":1.3,"opacity":1},"encoding":{"x":{"datum":518.3,"type":"quantitative"},"y":{"datum":157.45,"type":"quantitative"}}},
{"data":{"name":"one"},"mark":{"type":"text","text":["☰ ✖","☰ ✖","☰ ✖","☰ ✖","☰ ✖"],"lineHeight":14,"align":"left","baseline":"top","fontSize":9,"color":"#a0a0a0"},"encoding":{"x":{"datum":0.5,"type":"quantitative"},"y":{"datum":142.55,"type":"quantitative"}}},
{"data":{"name":"one"},"mark":{"type":"text","text":["EMA [50, 0] 160.755","EMA [200, 0] 158.786","EMA [200, 0] 158.786","EMA [200, 0] 158.786","EMA [50, 0] 160.755"],"lineHeight":14,"align":"left","baseline":"top","fontSize":10,"color":"#666666"},"encoding":{"x":{"datum":8.5,"type":"quantitative"},"y":{"datum":142.55,"type":"quantitative"}}},
{"data":{"name":"one"},"mark":{"type":"text","text":"15","align":"left","baseline":"middle","fontSize":12.5,"fontWeight":"bold","color":"#f7931e"},"encoding":{"x":{"datum":567.4,"type":"quantitative"},"y":{"datum":140.26,"type":"quantitative"}}},
{"data":{"name":"one"},"mark":{"type":"text","text":"h","align":"left","baseline":"middle","fontSize":12.5,"fontWeight":"bold","color":"#bdbdbd"},"encoding":{"x":{"datum":572.2,"type":"quantitative"},"y":{"datum":140.26,"type":"quantitative"}}},
{"data":{"name":"one"},"mark":{"type":"text","text":"01","align":"left","baseline":"middle","fontSize":12.5,"fontWeight":"bold","color":"#f7931e"},"encoding":{"x":{"datum":575.7,"type":"quantitative"},"y":{"datum":140.26,"type":"quantitative"}}},
{"data":{"name":"one"},"mark":{"type":"text","text":"m","align":"left","baseline":"middle","fontSize":12.5,"fontWeight":"bold","color":"#bdbdbd"},"encoding":{"x":{"datum":580.9,"type":"quantitative"},"y":{"datum":140.26,"type":"quantitative"}}},
{"data":{"name":"one"},"mark":{"type":"rect","color":"#8a9398"},"encoding":{"x":{"datum":586.2,"type":"quantitative"},"x2":{"datum":602.6},"y":{"datum":159.54,"type":"quantitative"},"y2":{"datum":158.95}}},
{"data":{"name":"one"},"mark":{"type":"point","shape":"M -1 0 L 0 -1 L 0 1 Z","size":196,"filled":true,"color":"#8a9398","opacity":1},"encoding":{"x":{"datum":586.3,"type":"quantitative"},"y":{"datum":159.244,"type":"quantitative"}}},
{"data":{"name":"one"},"mark":{"type":"text","text":"159.244","align":"left","baseline":"middle","fontSize":12,"color":"#ffffff"},"encoding":{"x":{"datum":587.3,"type":"quantitative"},"y":{"datum":159.244,"type":"quantitative"}}},
{"data":{"name":"one"},"mark":{"type":"rule","color":"#d4d4d4","strokeWidth":1.5},"encoding":{"x":{"datum":-1.44,"type":"quantitative"},"x2":{"datum":606.5},"y":{"datum":139.398,"type":"quantitative"}}}
]},
{"width":1832,"height":100,
"layer":[
{"data":{"name":"k"},"mark":{"type":"bar","size":7},
 "encoding":{"x":{"field":"t","type":"quantitative","scale":{"domain":[-1.44,586.6],"nice":false,"zero":false},"axis":{"values":[0,44,88,132,176,220,264,308,352,396,440,484,528,572],"tickCount":100,"labels":false}},
 "y":{"field":"g","type":"quantitative","scale":{"domain":[-2.29665,2.29665],"nice":false,"zero":false},"axis":{"orient":"right","values":[-2.29665,-0.76555,0.76555,2.29665],"tickCount":100,"labelExpr":"format(datum.value,'.5f')","labelPadding":5,"labelFlush":true,"labelOverlap":false}},
 "y2":{"datum":0},
 "color":{"condition":{"test":"datum.g >= 0","value":"#1a78c2"},"value":"#cc1111"}}},
{"data":{"name":"md"},"mark":{"type":"line","color":"#2e9cf0","strokeWidth":1.2,"interpolate":"monotone"},"encoding":{"x":{"field":"t","type":"quantitative"},"y":{"field":"m","type":"quantitative"}}},
{"data":{"name":"md"},"mark":{"type":"line","color":"#e8403a","strokeWidth":1.2,"interpolate":"monotone"},"encoding":{"x":{"field":"t","type":"quantitative"},"y":{"field":"s","type":"quantitative"}}},
{"data":{"name":"one"},"mark":{"type":"text","text":"☰ ✖","align":"left","baseline":"middle","fontSize":9,"color":"#a0a0a0"},"encoding":{"x":{"datum":0.5,"type":"quantitative"},"y":{"datum":-1.7,"type":"quantitative"}}},
{"data":{"name":"one"},"mark":{"type":"text","text":"MACD [14, 30, 7] -0.76633, -0.93421","align":"left","baseline":"middle","fontSize":10,"color":"#666666"},"encoding":{"x":{"datum":8.5,"type":"quantitative"},"y":{"datum":-1.7,"type":"quantitative"}}},
{"data":{"name":"one"},"mark":{"type":"rule","color":"#d4d4d4","strokeWidth":1.5},"encoding":{"x":{"datum":-1.44,"type":"quantitative"},"x2":{"datum":606.5},"y":{"datum":-2.29665,"type":"quantitative"}}}
]},
{"width":1832,"height":98,
"layer":[
{"data":{"name":"rs"},"mark":{"type":"line","color":"#333333","strokeWidth":1},
 "encoding":{"x":{"field":"t","type":"quantitative","scale":{"domain":[-1.44,586.6],"nice":false,"zero":false},"axis":{"values":[0,44,88,132,176,220,264,308,352,396,440,484,528,572],"tickCount":100,"labels":false}},
 "y":{"field":"r","type":"quantitative","scale":{"domain":[0,100],"nice":false,"zero":false},"axis":{"orient":"right","values":[0,30,70,100],"tickCount":100,"labelExpr":"format(datum.value,'.1f')","labelPadding":5,"labelFlush":true,"labelOverlap":false}}}},
{"data":{"name":"one"},"mark":{"type":"text","text":"☰ ✖","align":"left","baseline":"middle","fontSize":9,"color":"#a0a0a0"},"encoding":{"x":{"datum":0.5,"type":"quantitative"},"y":{"datum":12.6,"type":"quantitative"}}},
{"data":{"name":"one"},"mark":{"type":"text","text":"RSI [14] 44.1","align":"left","baseline":"middle","fontSize":10,"color":"#666666"},"encoding":{"x":{"datum":8.5,"type":"quantitative"},"y":{"datum":12.6,"type":"quantitative"}}},
{"data":{"name":"one"},"mark":{"type":"rule","color":"#d4d4d4","strokeWidth":1.5},"encoding":{"x":{"datum":-1.44,"type":"quantitative"},"x2":{"datum":606.5},"y":{"datum":0,"type":"quantitative"}}}
]},
{"width":1832,"height":75,
"layer":[
{"data":{"name":"k"},"mark":{"type":"bar","size":2.5},
 "encoding":{"x":{"field":"t","type":"quantitative","scale":{"domain":[-1.44,586.6],"nice":false,"zero":false},"axis":{"values":[0,44,88,132,176,220,264,308,352,396,440,484,528,572],"tickCount":100,"labelExpr":"['02.03.2025','15.04.2025','29.05.2025','13.07.2025','26.08.2025','09.10.2025','23.11.2025','08.01.2026','22.02.2026','07.04.2026','21.05.2026','05.07.2026','17.08.2026','24.09.2026'][round(datum.value/44)]","labelAlign":"left","labelBaseline":"top","labelPadding":2,"labelFlush":false,"labelOverlap":false}},
 "y":{"field":"v","type":"quantitative","scale":{"domain":[0,1925.538],"nice":false,"zero":false},"axis":{"orient":"right","values":[0,962.769,1925.538],"tickCount":100,"labelExpr":"format(datum.value*1000,'d')","labelPadding":5,"labelFlush":true,"labelOverlap":false}},
 "y2":{"datum":0},
 "color":{"condition":{"test":"datum.c >= datum.o","value":"#12b07a"},"value":"#ee3a3a"}}},
{"data":{"name":"one"},"mark":{"type":"text","text":"☰ ✖","align":"left","baseline":"middle","fontSize":9,"color":"#a0a0a0","opacity":0.8},"encoding":{"x":{"datum":0.5,"type":"quantitative"},"y":{"datum":180,"type":"quantitative"}}},
{"data":{"name":"one"},"mark":{"type":"text","text":"Volumen (reálny) 59175","align":"left","baseline":"middle","fontSize":10,"color":"#666666","opacity":0.8},"encoding":{"x":{"datum":8.5,"type":"quantitative"},"y":{"datum":180,"type":"quantitative"}}}
]}
]
}
